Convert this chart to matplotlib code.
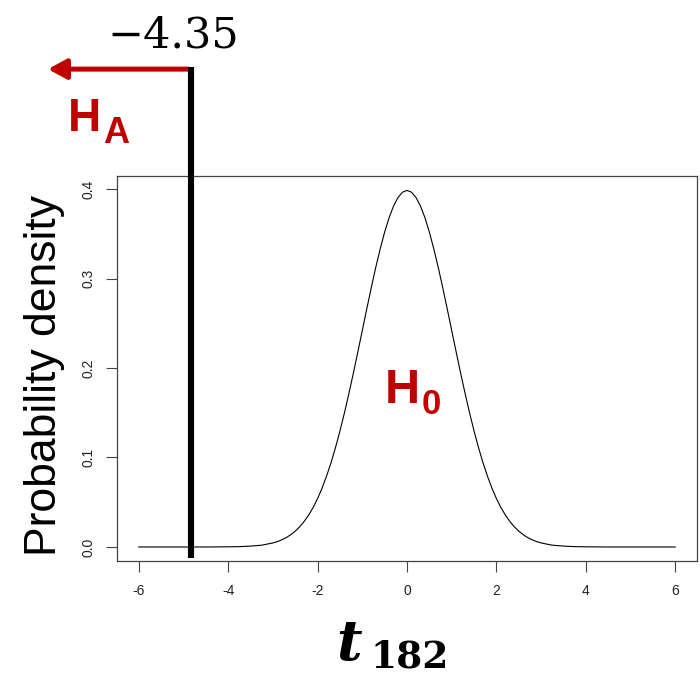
import matplotlib
matplotlib.use('Agg')
import matplotlib.pyplot as plt

# density curve (t, df = 182)
t_vals = [-6.0, -5.5, -5.0, -4.5, -4.0, -3.75, -3.5, -3.25,
          -3.0, -2.9, -2.8, -2.7, -2.6, -2.5, -2.4, -2.3, -2.2, -2.1,
          -2.0, -1.9, -1.8, -1.7, -1.6, -1.5, -1.4, -1.3, -1.2, -1.1,
          -1.0, -0.9, -0.8, -0.7, -0.6, -0.5, -0.4, -0.3, -0.2, -0.1,
          0.0, 0.1, 0.2, 0.3, 0.4, 0.5, 0.6, 0.7, 0.8, 0.9,
          1.0, 1.1, 1.2, 1.3, 1.4, 1.5, 1.6, 1.7, 1.8, 1.9,
          2.0, 2.1, 2.2, 2.3, 2.4, 2.5, 2.6, 2.7, 2.8, 2.9,
          3.0, 3.25, 3.5, 3.75, 4.0, 4.5, 5.0, 5.5, 6.0]
density = [0.000, 0.000, 0.000, 0.000, 0.0002, 0.0004, 0.001, 0.002,
           0.0045, 0.006, 0.008, 0.0105, 0.0137, 0.0177, 0.0226, 0.0285, 0.0357, 0.0441,
           0.0541, 0.0657, 0.0791, 0.0941, 0.111, 0.1296, 0.1497, 0.1714, 0.1942, 0.2179,
           0.2419, 0.2660, 0.2896, 0.3122, 0.3330, 0.3519, 0.3681, 0.3811, 0.3906, 0.3965,
           0.3984, 0.3965, 0.3906, 0.3811, 0.3681, 0.3519, 0.3330, 0.3122, 0.2896, 0.2660,
           0.2419, 0.2179, 0.1942, 0.1714, 0.1497, 0.1296, 0.111, 0.0941, 0.0791, 0.0657,
           0.0541, 0.0441, 0.0357, 0.0285, 0.0226, 0.0177, 0.0137, 0.0105, 0.008, 0.006,
           0.0045, 0.002, 0.001, 0.0004, 0.0002, 0.000, 0.000, 0.000, 0.000]

t_obs = -4.84          # where the thick line sits
t_label = '\u22124.35'
x_ticks = [-6, -4, -2, 0, 2, 4, 6]
y_ticks = [0.0, 0.1, 0.2, 0.3, 0.4]
df_label = '182'

red = '#C00000'
W, H = 700, 677


def fx(px):
    return px / W


def fy(py):
    return 1 - py / H


fig = plt.figure(figsize=(7.0, 6.77), dpi=100)
ax = fig.add_axes([fx(117.3), fy(561.3), (696.7 - 117.3) / W, (561.3 - 175.6) / H])

sans = 'Liberation Sans'
ax.plot(t_vals, density, color='black', lw=0.8)
ax.set_xlim(-6.48, 6.48)
ax.set_ylim(-0.016, 0.415)
ax.set_xticks(x_ticks)
ax.set_xticklabels([str(v) for v in x_ticks], family=sans)
ax.set_yticks(y_ticks)
ax.set_yticklabels(['%.1f' % v for v in y_ticks], rotation=90, va='center',
                   family=sans)
ax.tick_params(length=8, width=0.8, color='#444444', labelsize=10,
               labelcolor='#222222', pad=8, direction='out')
for s in ax.spines.values():
    s.set_color('#444444')
    s.set_linewidth(0.9)

# observed statistic line, running above the plot box
ax.plot([t_obs, t_obs], [-0.0125, 0.536], color='black', lw=4.4,
        solid_capstyle='butt', clip_on=False, zorder=5)
ax.annotate('', xy=(-8.03, 0.534), xytext=(t_obs - 0.05, 0.534),
            arrowprops=dict(arrowstyle='-|>,head_length=1.1,head_width=0.6',
                            color=red, lw=3.6, shrinkA=0, shrinkB=0),
            annotation_clip=False)

fig.text(fx(173), fy(47), t_label, family='DejaVu Serif', fontsize=31,
         ha='center', va='baseline')

fig.text(fx(68), fy(131), 'H', family=sans, weight='bold', fontsize=33,
         color=red, va='baseline')
fig.text(fx(103), fy(143), 'A', family=sans, weight='bold', fontsize=26,
         color=red, va='baseline')
fig.text(fx(385), fy(403), 'H', family=sans, weight='bold', fontsize=35,
         color=red, va='baseline')
fig.text(fx(422), fy(414), '0', family=sans, weight='bold', fontsize=25,
         color=red, va='baseline')

fig.text(fx(45), fy(375), 'Probability density', family=sans, fontsize=32,
         rotation=90, ha='center', va='center')

fig.text(fx(336), fy(660), 't', family='DejaVu Serif', weight='bold',
         style='italic', fontsize=40, va='baseline')
fig.text(fx(370), fy(668), df_label, family='DejaVu Serif', weight='bold',
         fontsize=27, va='baseline')

plt.savefig('out.png', dpi=100)
